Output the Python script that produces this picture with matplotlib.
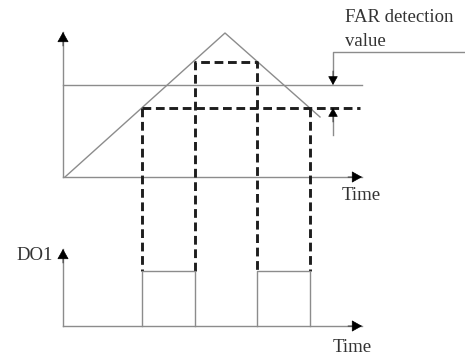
import matplotlib.pyplot as plt

# Diagram values (pixel-like schematic units, y grows downward)
t_origin = 63
t_end = 362
switch_times = [142, 195, 257, 310]        # DO1 on/off instants
ramp_t = [65, 225, 320]                    # analog signal: start, peak, end
ramp_v = [177, 33, 117]
far_level = 85                             # FAR detection value
hyst_level = 108                           # detection value - hysteresis
upper_box_top = 62
upper_base = 177
do1_high = 271
do1_base = 326

gray = '#8c8c8c'
plt.rcParams['font.family'] = ['Liberation Serif', 'DejaVu Serif']

fig = plt.figure(figsize=(4.65, 3.55), dpi=100)
ax = fig.add_axes([0, 0, 1, 1])
ax.set_xlim(0, 465)
ax.set_ylim(355, 0)
ax.axis('off')

def head(x, y, dx, dy, size=12):
    # small black arrowhead at (x, y) pointing along (dx, dy)
    ax.annotate('', xy=(x, y), xytext=(x - dx * 14, y - dy * 14),
                arrowprops=dict(arrowstyle='-|>,head_length=0.5,head_width=0.28',
                                fc='black', ec='black', lw=0.5,
                                mutation_scale=size, shrinkA=0, shrinkB=0))

def axis_arrow(x0, y0, x1, y1):
    ax.plot([x0, x1], [y0, y1], color=gray, lw=1.0)
    dx = (x1 > x0) - (x1 < x0)
    dy = (y1 > y0) - (y1 < y0)
    head(x1, y1, dx, dy, 13)

# upper axes
axis_arrow(t_origin, upper_base, t_origin, 32)
axis_arrow(t_origin, upper_base, t_end, upper_base)
# lower axes
axis_arrow(t_origin, do1_base, t_origin, 249)
axis_arrow(t_origin, do1_base, t_end, do1_base)

# analog signal
ax.plot(ramp_t, ramp_v, color=gray, lw=1.0)
# FAR detection level
ax.plot([t_origin, t_end], [far_level, far_level], color=gray, lw=1.0)

dash = dict(color='#1e1e1e', lw=2.1, dashes=(3.0, 1.6))
# lower threshold dashed line
ax.plot([switch_times[0], t_end - 2], [hyst_level, hyst_level], **dash)
# upper dashed box
ax.plot([switch_times[1], switch_times[1], switch_times[2], switch_times[2]],
        [do1_high, upper_box_top, upper_box_top, do1_high], **dash)
for t in (switch_times[0], switch_times[3]):
    ax.plot([t, t], [hyst_level, do1_high], **dash)

# DO1 pulses
for a, b in ((switch_times[0], switch_times[1]), (switch_times[2], switch_times[3])):
    ax.plot([a, a, b, b], [do1_base, do1_high, do1_high, do1_base], color=gray, lw=1.0)

# FAR detection value leader and arrows
lead_x = 333
ax.plot([465, lead_x, lead_x], [52, 52, far_level - 8], color=gray, lw=1.0)
head(lead_x, far_level, 0, 1, 11)
ax.plot([lead_x, lead_x], [hyst_level + 8, 135], color=gray, lw=1.0)
head(lead_x, hyst_level, 0, -1, 11)

txt = dict(fontsize=13.5, color='#333333')
ax.text(345, 18, 'FAR detection', va='center', ha='left', **txt)
ax.text(345, 41, 'value', va='center', ha='left', **txt)
ax.text(342, 196, 'Time', va='center', ha='left', **txt)
ax.text(333, 347, 'Time', va='center', ha='left', **txt)
ax.text(16, 255, 'DO1', va='center', ha='left', **txt)

fig.savefig('out.png', dpi=100)
